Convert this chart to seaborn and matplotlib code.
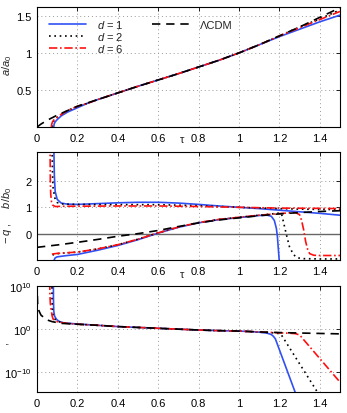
import numpy as np
import seaborn as sns
import matplotlib
matplotlib.use("Agg")
import matplotlib.pyplot as plt
from matplotlib.lines import Line2D

# ---- top panel: a/a0 ----
tau_a_lcdm = [0.0, 0.02, 0.05, 0.1, 0.15, 0.2, 0.3, 0.4, 0.5, 0.6, 0.7, 0.8, 0.9, 1.0, 1.1, 1.2, 1.3, 1.4, 1.5]
a_lcdm = [0.0, 0.04, 0.09, 0.16, 0.22, 0.28, 0.37, 0.46, 0.55, 0.635, 0.72, 0.81, 0.9, 1.0, 1.11, 1.23, 1.35, 1.48, 1.61]
tau_a_d1 = [0.083, 0.085, 0.09, 0.1, 0.12, 0.15, 0.2, 0.25, 0.3, 0.4, 0.5, 0.6, 0.7, 0.8, 0.9, 1.0, 1.1, 1.2, 1.3, 1.4, 1.5]
a_d1 = [0.0, 0.04, 0.07, 0.1, 0.15, 0.2, 0.26, 0.32, 0.37, 0.46, 0.55, 0.635, 0.72, 0.81, 0.9, 1.0, 1.11, 1.22, 1.32, 1.42, 1.51]
tau_a_d2 = [0.074, 0.076, 0.08, 0.09, 0.1, 0.12, 0.15, 0.2, 0.25, 0.3, 0.4, 0.5, 0.6, 0.7, 0.8, 0.9, 1.0, 1.1, 1.2, 1.3, 1.4, 1.5]
a_d2 = [0.0, 0.04, 0.07, 0.11, 0.13, 0.17, 0.22, 0.28, 0.32, 0.37, 0.46, 0.55, 0.635, 0.72, 0.81, 0.9, 1.0, 1.11, 1.23, 1.35, 1.46, 1.58]
tau_a_d6 = [0.071, 0.073, 0.077, 0.085, 0.1, 0.12, 0.15, 0.2, 0.25, 0.3, 0.4, 0.5, 0.6, 0.7, 0.8, 0.9, 1.0, 1.1, 1.2, 1.3, 1.4, 1.5]
a_d6 = [0.0, 0.04, 0.07, 0.1, 0.13, 0.17, 0.22, 0.28, 0.32, 0.37, 0.46, 0.55, 0.635, 0.72, 0.81, 0.9, 1.0, 1.11, 1.23, 1.34, 1.45, 1.56]

# ---- middle panel: b/b0 (upper) and -q (lower) ----
tau_b_d1 = [0.083, 0.084, 0.086, 0.09, 0.1, 0.12, 0.15, 0.2, 0.3, 0.4, 0.5, 0.6, 0.7, 0.8, 0.9, 1.0, 1.1, 1.2, 1.3, 1.4, 1.5]
b_d1 = [4.0, 3.0, 2.2, 1.6, 1.3, 1.16, 1.12, 1.11, 1.14, 1.17, 1.19, 1.19, 1.16, 1.11, 1.05, 1.0, 0.95, 0.89, 0.83, 0.77, 0.7]
tau_b_d2 = [0.074, 0.075, 0.077, 0.08, 0.09, 0.1, 0.12, 0.15, 0.2, 0.4, 0.6, 0.8, 1.0, 1.2, 1.3, 1.4, 1.5]
b_d2 = [4.0, 3.0, 2.2, 1.7, 1.3, 1.18, 1.13, 1.12, 1.11, 1.1, 1.1, 1.06, 1.0, 0.95, 0.93, 0.92, 0.91]
tau_b_d6 = [0.064, 0.065, 0.066, 0.068, 0.072, 0.078, 0.09, 0.1, 0.12, 0.2, 0.4, 0.6, 0.8, 1.0, 1.2, 1.4, 1.5]
b_d6 = [4.0, 3.0, 2.0, 1.5, 1.2, 1.08, 1.03, 1.03, 1.04, 1.04, 1.05, 1.05, 1.03, 1.0, 0.97, 0.96, 0.95]

tau_q_lcdm = [0.0, 0.1, 0.2, 0.3, 0.4, 0.5, 0.6, 0.7, 0.8, 0.9, 1.0, 1.1, 1.2, 1.3, 1.4, 1.5]
q_lcdm = [-0.52, -0.43, -0.33, -0.22, -0.1, 0.0, 0.12, 0.27, 0.41, 0.52, 0.6, 0.68, 0.75, 0.8, 0.84, 0.87]
tau_q_d1 = [0.082, 0.09, 0.1, 0.15, 0.2, 0.3, 0.4, 0.5, 0.6, 0.7, 0.8, 0.9, 1.0, 1.1, 1.14, 1.16, 1.175, 1.185, 1.19, 1.195, 1.2]
q_d1 = [-1.05, -0.92, -0.88, -0.83, -0.79, -0.63, -0.45, -0.23, 0.02, 0.24, 0.41, 0.53, 0.61, 0.69, 0.7, 0.66, 0.5, 0.2, -0.1, -0.6, -1.1]
tau_q_d2 = [0.077, 0.08, 0.1, 0.2, 0.3, 0.4, 0.5, 0.6, 0.7, 0.8, 0.9, 1.0, 1.1, 1.15, 1.2, 1.21, 1.22, 1.235, 1.25, 1.27, 1.29, 1.32, 1.4, 1.5]
q_d2 = [-0.82, -0.8, -0.76, -0.7, -0.58, -0.42, -0.21, 0.03, 0.25, 0.42, 0.54, 0.62, 0.7, 0.74, 0.78, 0.77, 0.45, -0.05, -0.5, -0.8, -0.92, -0.95, -0.96, -0.96]
tau_q_d6 = [0.074, 0.08, 0.1, 0.2, 0.3, 0.4, 0.5, 0.6, 0.7, 0.8, 0.9, 1.0, 1.1, 1.2, 1.25, 1.28, 1.3, 1.31, 1.32, 1.33, 1.34, 1.35, 1.37, 1.4, 1.5]
q_d6 = [-0.78, -0.77, -0.75, -0.7, -0.58, -0.42, -0.21, 0.03, 0.25, 0.42, 0.54, 0.62, 0.7, 0.76, 0.79, 0.8, 0.72, 0.5, 0.15, -0.3, -0.6, -0.76, -0.82, -0.83, -0.83]

# ---- bottom panel: log10 of the plotted quantity ----
tau_r_lcdm = [0.0, 0.003, 0.01, 0.02, 0.05, 0.075, 0.12, 0.2, 0.3, 0.4, 0.5, 0.6, 0.7, 0.8, 0.9, 1.0, 1.1, 1.2, 1.3, 1.4, 1.5]
lr_lcdm = [11.0, 6.0, 4.2, 3.2, 2.1, 1.7, 1.3, 1.1, 0.85, 0.55, 0.35, 0.15, -0.05, -0.25, -0.4, -0.5, -0.7, -0.85, -0.95, -1.05, -1.15]
tau_r_d1 = [0.081, 0.0815, 0.083, 0.087, 0.097, 0.11, 0.13, 0.16, 0.2, 0.3, 0.4, 0.5, 0.6, 0.7, 0.8, 0.9, 1.0, 1.05, 1.1, 1.14, 1.16, 1.17, 1.18, 1.28]
lr_d1 = [11.0, 7.0, 4.2, 3.0, 2.2, 1.75, 1.45, 1.3, 1.15, 0.85, 0.55, 0.35, 0.15, -0.05, -0.25, -0.4, -0.5, -0.6, -0.75, -1.0, -1.3, -1.7, -2.3, -15.0]
tau_r_d2 = [0.074, 0.0745, 0.076, 0.08, 0.09, 0.1, 0.13, 0.16, 0.2, 0.3, 0.4, 0.5, 0.6, 0.7, 0.8, 0.9, 1.0, 1.1, 1.15, 1.18, 1.2, 1.21, 1.4]
lr_d2 = [11.0, 7.0, 4.5, 3.0, 2.2, 1.8, 1.4, 1.25, 1.1, 0.85, 0.55, 0.35, 0.15, -0.05, -0.25, -0.4, -0.5, -0.75, -0.85, -0.95, -1.1, -1.4, -15.6]
tau_r_d6 = [0.063, 0.064, 0.066, 0.07, 0.075, 0.08, 0.09, 0.1, 0.13, 0.16, 0.2, 0.3, 0.4, 0.5, 0.6, 0.7, 0.8, 0.9, 1.0, 1.1, 1.2, 1.25, 1.28, 1.3, 1.5]
lr_d6 = [11.0, 8.0, 6.0, 4.5, 3.0, 2.3, 1.9, 1.7, 1.4, 1.25, 1.1, 0.85, 0.55, 0.35, 0.15, -0.05, -0.25, -0.4, -0.5, -0.7, -0.9, -1.0, -1.1, -1.4, -12.4]

xticks = [0, 0.2, 0.4, 0.6, 0.8, 1.0, 1.2, 1.4]
xtick_labels = ["0", "0.2", "0.4", "0.6", "0.8", "1", "1.2", "1.4"]

sns.set_style("white")
plt.rcParams["font.family"] = ["Liberation Sans", "DejaVu Sans"]
plt.rcParams["mathtext.fontset"] = "custom"
plt.rcParams["mathtext.rm"] = "Liberation Sans"
plt.rcParams["mathtext.it"] = "Liberation Sans:italic"
plt.rcParams["font.size"] = 8

blue = "#3050f5"
red = "#ff1010"
styles = {
    "d1": dict(color=blue, linestyle="-"),
    "d2": dict(color="black", linestyle=(0, (1, 2.2))),
    "d6": dict(color=red, linestyle=(0, (5, 1.6, 1, 1.6))),
    "lcdm": dict(color="black", linestyle=(0, (5, 3.5))),
}
lw = 1.2

fig = plt.figure(figsize=(3.47, 4.14), dpi=100)
ax1 = fig.add_axes([0.1066, 0.6908, 0.8732, 0.2899])
ax2 = fig.add_axes([0.1066, 0.3696, 0.8732, 0.2609])
ax3 = fig.add_axes([0.1066, 0.0507, 0.8732, 0.2560])


def draw(ax, x, y, key, label=None):
    sns.lineplot(x=x, y=y, ax=ax, estimator=None, sort=False, lw=lw,
                 label=label, legend=False, **styles[key])


# Top panel
draw(ax1, tau_a_d1, a_d1, "d1", "$d$ = 1")
draw(ax1, tau_a_d2, a_d2, "d2", "$d$ = 2")
draw(ax1, tau_a_d6, a_d6, "d6", "$d$ = 6")
draw(ax1, tau_a_lcdm, a_lcdm, "lcdm", "ΛCDM")
ax1.set_ylim(0, 1.62)
ax1.set_yticks([0.5, 1, 1.5])
ax1.set_yticklabels(["0.5", "1", "1.5"])

# Middle panel
ax2.axhline(0, color="0.4", lw=1.0, zorder=1)
draw(ax2, tau_b_d1, b_d1, "d1")
draw(ax2, tau_b_d2, b_d2, "d2")
draw(ax2, tau_b_d6, b_d6, "d6")
draw(ax2, tau_q_d1, q_d1, "d1")
draw(ax2, tau_q_d2, q_d2, "d2")
draw(ax2, tau_q_d6, q_d6, "d6")
draw(ax2, tau_q_lcdm, q_lcdm, "lcdm")
ax2.set_ylim(-1, 3.1)
ax2.set_yticks([0, 1, 2])
ax2.set_yticklabels(["0", "1", "2"])

# Bottom panel
draw(ax3, tau_r_d1, 10.0 ** np.array(lr_d1), "d1")
draw(ax3, tau_r_d2, 10.0 ** np.array(lr_d2), "d2")
draw(ax3, tau_r_d6, 10.0 ** np.array(lr_d6), "d6")
draw(ax3, tau_r_lcdm, 10.0 ** np.array(lr_lcdm), "lcdm")
ax3.set_yscale("log")
ax3.set_ylim(10 ** -14.7, 1e10)
ax3.set_yticks([1e-10, 1, 1e10])
ax3.minorticks_off()

for ax in (ax1, ax2, ax3):
    ax.set_xlim(0, 1.5)
    ax.set_xticks(xticks)
    ax.set_xticklabels(xtick_labels)
    ax.grid(True, color="0.6", linestyle=(0, (1, 3)), lw=0.7)
    ax.tick_params(direction="in", length=3, width=0.6, top=True, right=True,
                   labelsize=8, pad=4, colors="black")
    for sp in ax.spines.values():
        sp.set_color("black")
        sp.set_linewidth(0.8)
    ax.set_xlabel("")
    ax.set_ylabel("")

# Axis labels
ax1.set_ylabel("$a/a_0$", fontsize=8)
ax1.yaxis.set_label_coords(-0.075, 0.52)
ax2.set_ylabel("$-\\,q$ ,     $b/b_0$", fontsize=8)
ax2.yaxis.set_label_coords(-0.075, 0.42)
ax3.set_ylabel(",", fontsize=8)
ax3.yaxis.set_label_coords(-0.09, 0.47)
ax1.text(0.48, -0.1, "τ", transform=ax1.transAxes, ha="center", va="center", fontsize=8)
ax2.text(0.48, -0.13, "τ", transform=ax2.transAxes, ha="center", va="center", fontsize=8)

# Legend: three curves in first column, ΛCDM in the second
handles, labels = ax1.get_legend_handles_labels()
blank = Line2D([], [], linestyle="none")
handles = handles + [blank, blank]
labels = labels + ["", ""]
ax1.legend(handles, labels, ncol=2, loc="upper left", bbox_to_anchor=(0.04, 0.91),
           frameon=False, handlelength=3.3, columnspacing=2.6, labelspacing=0.0,
           handletextpad=1.0, borderaxespad=0.0, borderpad=0.0, fontsize=8)

plt.savefig("out.png", dpi=100)
